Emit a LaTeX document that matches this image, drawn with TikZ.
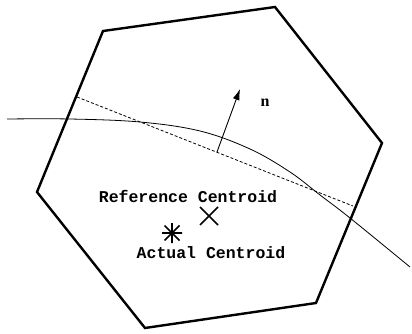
\documentclass[tikz,border=0pt]{standalone}
\usepackage{fontspec}
\newfontfamily\monofont{Liberation Mono}
\newfontfamily\serifbold{Liberation Serif}
\usetikzlibrary{arrows.meta,calc}
\tikzset{
  hexline/.style={line width=2.4pt, line join=miter},
  interface/.style={line width=0.8pt},
  planeline/.style={line width=0.8pt, dash pattern=on 3pt off 2pt},
  normalarrow/.style={line width=0.9pt, -{Latex[length=11pt,width=7pt]}},
  label/.style={font=\monofont\bfseries\fontsize{16.5}{18}\selectfont, inner sep=0pt},
  nlabel/.style={font=\serifbold\bfseries\fontsize{16}{18}\selectfont, inner sep=0pt},
  marker/.style={line width=1.6pt}
}
\begin{document}
\begin{tikzpicture}[x=1pt,y=-1pt]
\useasboundingbox (0,0) rectangle (412,334);
% hexagon
\coordinate (h1) at (103,31);
\coordinate (h2) at (275,7);
\coordinate (h3) at (382,143);
\coordinate (h4) at (316,303);
\coordinate (h5) at (145,328);
\coordinate (h6) at (37,192);
\draw[hexline] (h1) -- (h2) -- (h3) -- (h4) -- (h5) -- (h6) -- cycle;
% dashed plane
\coordinate (d1) at (77,97);
\coordinate (d2) at (353,206);
\draw[planeline] (d1) -- (d2);
% interface curve
\draw[interface] plot[smooth, tension=0.6] coordinates {(7,119) (70,119) (140,122) (200,131) (250,149) (290,172) (320,195) (350,218) (410,267)};
% normal
\coordinate (nb) at (217,152);
\coordinate (nt) at (240,89);
\draw[normalarrow] (nb) -- (nt);
\node[nlabel] (n) at (265,103) {n};
% markers
\coordinate (rc) at (209,216);
\draw[marker] ($(rc)+(-9,-9)$) -- ($(rc)+(9,9)$) ($(rc)+(-9,9)$) -- ($(rc)+(9,-9)$);
\coordinate (ac) at (172,233);
\draw[marker] ($(ac)+(-10,0)$) -- ($(ac)+(10,0)$)
  ($(ac)+(0,-10)$) -- ($(ac)+(0,10)$)
  ($(ac)+(-7.5,-7.5)$) -- ($(ac)+(7.5,7.5)$)
  ($(ac)+(-7.5,7.5)$) -- ($(ac)+(7.5,-7.5)$);
\node[label] (rlab) at (188,196) {Reference Centroid};
\node[label] (alab) at (211,253) {Actual Centroid};
\end{tikzpicture}
\end{document}
